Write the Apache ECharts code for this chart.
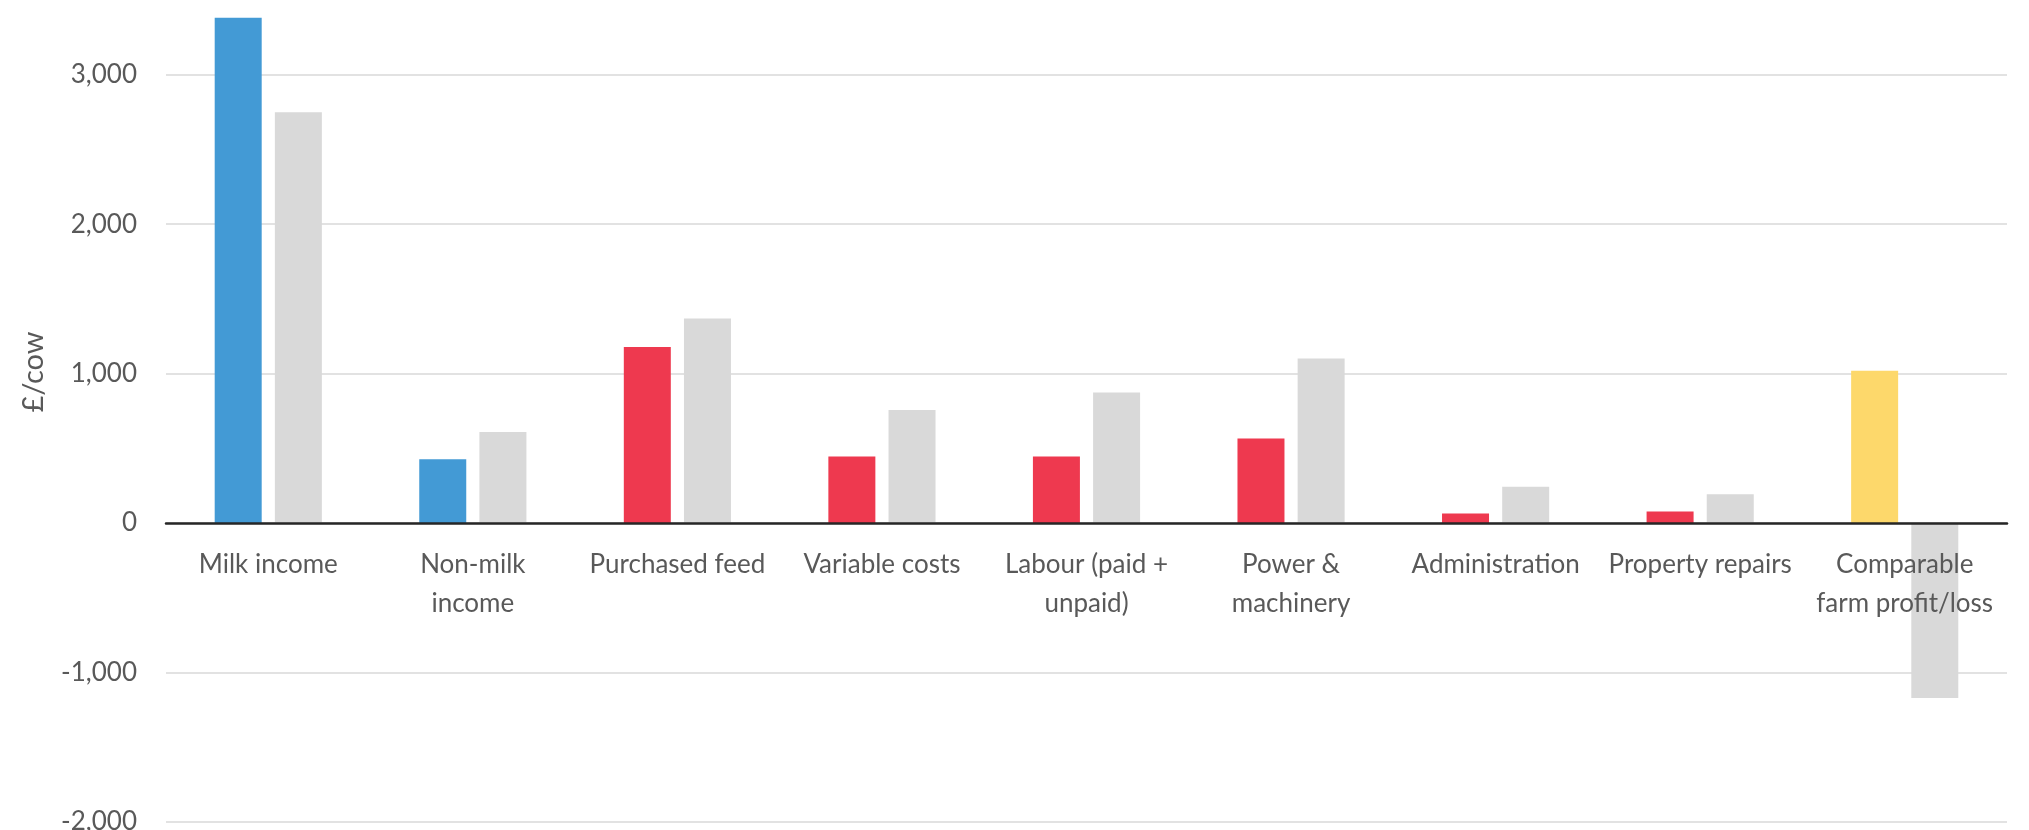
<!DOCTYPE html>
<html>
<head>
<meta charset="utf-8">
<script src="https://cdn.jsdelivr.net/npm/echarts@6/dist/echarts.min.js"></script>
<style>
  html, body { margin: 0; padding: 0; background: #ffffff; }
  #chart { width: 2029px; height: 830px; }
</style>
</head>
<body>
<div id="chart"></div>
<script>
const categories = [
  "Milk income",
  "Non-milk\nincome",
  "Purchased feed",
  "Variable costs",
  "Labour (paid +\nunpaid)",
  "Power &\nmachinery",
  "Administration",
  "Property repairs",
  "Comparable\nfarm profit/loss"
];
const farmValues = [3382, 427, 1179, 445, 445, 566, 65, 78, 1019];
const farmColors = ["#439AD5", "#439AD5", "#EE394F", "#EE394F", "#EE394F", "#EE394F", "#EE394F", "#EE394F", "#FDD86B"];
const benchmarkValues = [2749, 609, 1369, 757, 874, 1101, 243, 193, -1170];
const yTicks = [-2000, -1000, 0, 1000, 2000, 3000];
const yMin = -2000, yMax = 3500;

const chart = echarts.init(document.getElementById('chart'), null, { renderer: 'canvas' });
const fontFamily = 'Lato, "Open Sans", sans-serif';
const gridTop = 0, gridBottom = 8, chartH = 830;
const plotH = chartH - gridTop - gridBottom;
// pixel distance from the grid bottom up to the value 0
const zeroOffset = -plotH * (0 - yMin) / (yMax - yMin);

chart.setOption({
  animation: false,
  backgroundColor: '#ffffff',
  grid: {
    left: 166, right: 22, top: gridTop, bottom: gridBottom,
    containLabel: false,
    outerBoundsMode: 'none'
  },
  xAxis: {
    type: 'category',
    data: categories,
    offset: zeroOffset,
    axisTick: { show: false },
    axisLine: { onZero: false, lineStyle: { color: '#262626', width: 2.5 } },
    axisLabel: {
      interval: 0,
      margin: 22,
      color: '#595959',
      fontFamily: fontFamily,
      fontSize: 26,
      lineHeight: 39,
      align: 'center'
    },
    z: 5
  },
  yAxis: {
    type: 'value',
    min: yMin,
    max: yMax,
    interval: 1000,
    name: '£/cow',
    nameLocation: 'middle',
    nameGap: 118,
    nameRotate: 90,
    nameTextStyle: {
      color: '#595959',
      fontFamily: fontFamily,
      fontSize: 29,
      padding: [0, 0, 0, 78]
    },
    axisLine: { show: false },
    axisTick: { show: false },
    axisLabel: {
      margin: 29,
      color: '#595959',
      fontFamily: fontFamily,
      fontSize: 26,
      showMaxLabel: false,
      formatter: function (v) {
        return yTicks.indexOf(v) >= 0 ? v.toLocaleString('en-US') : '';
      }
    },
    splitLine: { show: true, showMaxLine: false, lineStyle: { color: '#D9D9D9', width: 1.5 } }
  },
  series: [
    {
      type: 'bar',
      name: 'Farm',
      barWidth: 47,
      barGap: '28%',
      data: farmValues.map(function (v, i) {
        return { value: v, itemStyle: { color: farmColors[i] } };
      }),
      z: 2
    },
    {
      type: 'bar',
      name: 'Benchmark',
      barWidth: 47,
      barGap: '28%',
      itemStyle: { color: '#D9D9D9' },
      data: benchmarkValues,
      z: 2
    }
  ]
});
</script>
</body>
</html>
